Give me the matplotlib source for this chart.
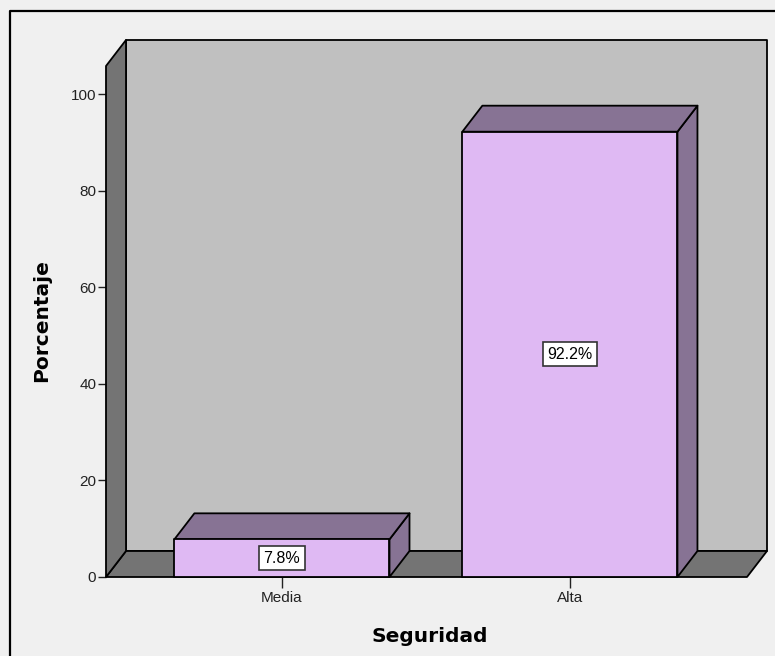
import matplotlib
matplotlib.use("Agg")
import matplotlib.pyplot as plt
from matplotlib.lines import Line2D
from matplotlib.patches import Polygon

# percentages by security level
categories = ["Media", "Alta"]
percentages = [7.8, 92.2]
yticks = [0, 20, 40, 60, 80, 100]

BG = "#f0f0f0"
WALL = "#c0c0c0"
FLOOR = "#747474"
BAR_FRONT = "#dfb9f3"
BAR_DARK = "#877394"

fig = plt.figure(figsize=(7.75, 6.56), dpi=100)
fig.patch.set_facecolor(BG)

# outer frame, only top and left edges fall inside the canvas
fx, fy = 10 / 775, 1 - 11 / 656
fig.lines.append(Line2D([fx, fx, 1.0], [0.0, fy, fy], transform=fig.transFigure,
                        color="black", linewidth=1.6))

ax = fig.add_axes([106 / 775, 79 / 656, 641 / 775, 511 / 656])
ax.set_facecolor("none")
x0, x1 = -0.611, 1.615
ytop = 105.8
ax.set_xlim(x0, x1)
ax.set_ylim(0, ytop)

# depth of the 3d effect, 20 px right and 26 px up, in data units
dx = 20 * (x1 - x0) / ax.bbox.width
dy = 26 * ytop / ax.bbox.height


def poly(pts, color, z):
    p = Polygon(pts, closed=True, facecolor=color, edgecolor="black",
                linewidth=1.3, joinstyle="round", clip_on=False, zorder=z)
    ax.add_patch(p)


# back wall, floor and left side wall
poly([(x0 + dx, dy), (x1 + dx, dy), (x1 + dx, ytop + dy), (x0 + dx, ytop + dy)], WALL, 1)
poly([(x0, 0), (x1, 0), (x1 + dx, dy), (x0 + dx, dy)], FLOOR, 2)
poly([(x0, 0), (x0 + dx, dy), (x0 + dx, ytop + dy), (x0, ytop)], FLOOR, 2)

width = 0.747
for i, v in enumerate(percentages):
    l, r = i - width / 2, i + width / 2
    poly([(r, 0), (r + dx, dy), (r + dx, v + dy), (r, v)], BAR_DARK, 3)
    poly([(l, v), (r, v), (r + dx, v + dy), (l + dx, v + dy)], BAR_DARK, 3)
    poly([(l, 0), (r, 0), (r, v), (l, v)], BAR_FRONT, 4)
    ax.text(i, v / 2, f"{v}%", ha="center", va="center", fontsize=11.5,
            family="Liberation Sans", zorder=6,
            bbox=dict(boxstyle="square,pad=0.28", facecolor="white",
                      edgecolor="#333333", linewidth=1.2))

for s in ax.spines.values():
    s.set_visible(False)

ax.set_xticks(range(len(categories)))
ax.set_xticklabels(categories, family="Liberation Sans", fontsize=11)
ax.set_yticks(yticks)
ax.set_yticklabels([str(t) for t in yticks], family="Liberation Sans", fontsize=11)
ax.tick_params(axis="y", length=6, width=1, pad=1, colors="#222222")
ax.tick_params(axis="x", length=8, width=1, pad=2, colors="#222222")

fig.text(430 / 775, 1 - 636 / 656, "Seguridad", ha="center", va="center",
         fontsize=14.5, fontweight="bold", family="DejaVu Sans")
fig.text(42 / 775, 1 - 321 / 656, "Porcentaje", ha="center", va="center",
         rotation=90, fontsize=14.5, fontweight="bold", family="DejaVu Sans")

fig.savefig("out.png", dpi=100, facecolor=BG)
